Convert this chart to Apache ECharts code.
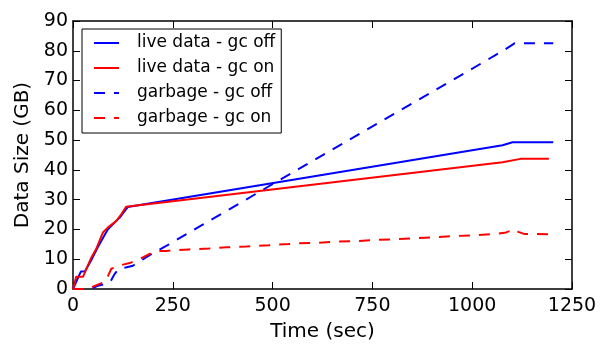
<!DOCTYPE html>
<html>
<head>
<meta charset="utf-8">
<script src="https://cdn.jsdelivr.net/npm/echarts@6/dist/echarts.min.js"></script>
<style>
  html, body { margin: 0; padding: 0; background: #fff; }
  #chart { width: 613px; height: 347px; }
</style>
</head>
<body>
<div id="chart"></div>
<script>
// [time (sec), data size (GB)]
const liveGcOff = [
  [0, 0], [15, 4.5], [20, 5.9], [30, 6.0], [45, 9.5], [62, 14.0], [87, 20.0],
  [104, 22.3], [117, 24.0], [137, 27.5], [1076, 48.3], [1101, 49.3], [1203, 49.3]
];
const liveGcOn = [
  [0, 0], [8, 4.1], [25, 4.1], [46, 10.6], [58, 13.4], [75, 19.0], [87, 20.6],
  [108, 22.8], [121, 25.1], [133, 27.6], [1076, 42.6], [1121, 43.7], [1192, 43.7]
];
const garbageGcOff = [
  [0, 0], [45, 0], [60, 1.0], [90, 2.0], [96, 3.0], [104, 5.0], [115, 6.8],
  [132, 7.2], [150, 7.8], [192, 11.4], [238, 14.8], [326, 21.7], [1076, 79.9],
  [1106, 82.5], [1203, 82.5]
];
const garbageGcOn = [
  [0, 0], [45, 0], [50, 0.8], [70, 1.9], [80, 2.4], [88, 4.5], [96, 6.8],
  [120, 8.0], [142, 8.7], [167, 10.1], [192, 11.8], [210, 12.7], [234, 12.8],
  [290, 13.3], [340, 13.6], [385, 14.0], [435, 14.3], [490, 14.7], [540, 15.1],
  [567, 15.4], [617, 15.5], [660, 15.9], [710, 16.1], [760, 16.5], [810, 16.7],
  [860, 17.1], [910, 17.4], [960, 17.8], [1010, 18.1], [1060, 18.5], [1085, 19.0],
  [1100, 19.8], [1108, 20.0], [1115, 19.2], [1130, 18.5], [1192, 18.4]
];
const seriesNames = ['live data - gc off', 'live data - gc on', 'garbage - gc off', 'garbage - gc on'];

const font = 'DejaVu Sans';
const dash = [11, 9];

const chart = echarts.init(document.getElementById('chart'));

const frameAxis = (pos, extra) => Object.assign({
  position: pos,
  axisLine: { show: true, onZero: false, lineStyle: { color: '#000', width: 1.5 } },
  axisTick: { show: true, inside: true, length: 7, lineStyle: { color: '#000', width: 1 } },
  splitLine: { show: false },
  axisLabel: { show: false }
}, extra);

const tickLabel = { show: true, fontFamily: font, fontSize: 19, color: '#000', formatter: v => String(v) };

chart.setOption({
  animation: false,
  textStyle: { fontFamily: font },
  grid: { left: 73, right: 41, top: 21, bottom: 57 },
  legend: {
    orient: 'vertical',
    left: 82,
    top: 29,
    padding: [4, 6, 5, 11],
    itemWidth: 25,
    itemHeight: 14,
    itemGap: 5,
    itemStyle: { opacity: 0 },
    backgroundColor: '#fff',
    borderColor: '#000',
    borderWidth: 1,
    borderRadius: 0,
    textStyle: { fontFamily: font, fontSize: 17, color: '#000', lineHeight: 20, padding: [0, 0, 0, 13] },
    data: seriesNames
  },
  xAxis: [
    frameAxis('bottom', {
      type: 'value', min: 0, max: 1250, interval: 250,
      name: 'Time (sec)', nameLocation: 'middle', nameGap: 33,
      nameTextStyle: { fontFamily: font, fontSize: 20, color: '#000' },
      axisLabel: Object.assign({ margin: 8 }, tickLabel)
    }),
    frameAxis('top', { type: 'value', min: 0, max: 1250, interval: 250 })
  ],
  yAxis: [
    frameAxis('left', {
      type: 'value', min: 0, max: 90, interval: 10,
      name: 'Data Size (GB)', nameLocation: 'middle', nameGap: 40,
      nameTextStyle: { fontFamily: font, fontSize: 20, color: '#000' },
      axisLabel: Object.assign({ margin: 5 }, tickLabel)
    }),
    frameAxis('right', { type: 'value', min: 0, max: 90, interval: 10 })
  ],
  series: [
    { name: seriesNames[0], type: 'line', data: liveGcOff, symbol: 'none', color: '#0000ff',
      lineStyle: { width: 2, color: '#0000ff' } },
    { name: seriesNames[1], type: 'line', data: liveGcOn, symbol: 'none', color: '#ff0000',
      lineStyle: { width: 2, color: '#ff0000' } },
    { name: seriesNames[2], type: 'line', data: garbageGcOff, symbol: 'none', color: '#0000ff',
      lineStyle: { width: 2, color: '#0000ff', type: dash } },
    { name: seriesNames[3], type: 'line', data: garbageGcOn, symbol: 'none', color: '#ff0000',
      lineStyle: { width: 2, color: '#ff0000', type: dash } }
  ]
});
</script>
</body>
</html>
